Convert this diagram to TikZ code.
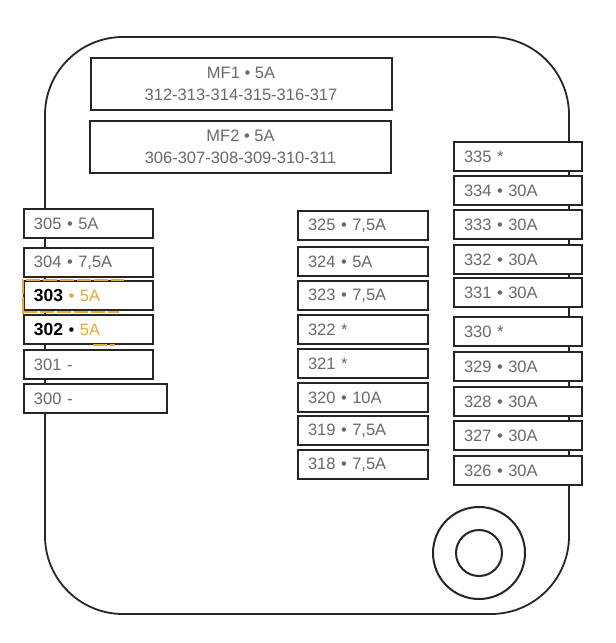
\documentclass[tikz,border=0pt]{standalone}
\usepackage{fontspec}
\setmainfont{Liberation Sans}
\usepackage{tikz}
\usetikzlibrary{positioning}

\definecolor{boxgray}{RGB}{105,105,105}
\definecolor{hiorange}{RGB}{232,168,58}

\tikzset{
  fusebox/.style={draw=black!85, line width=2pt, fill=white, anchor=north west,
    minimum height=29pt, inner xsep=10pt, inner ysep=0pt, text width=#1,
    align=left, font=\fontsize{16.5}{20}\selectfont, text=boxgray},
  mainbox/.style={draw=black!85, line width=2pt, fill=white,
    minimum width=301pt, minimum height=52pt, align=center,
    font=\fontsize{16.5}{22}\selectfont, text=boxgray},
  hilite/.style={draw=hiorange, line width=1.3pt, dash pattern=on 14pt off 3pt},
  ring/.style={draw=black!85, line width=2pt, circle, inner sep=0pt}
}

\begin{document}
\begin{tikzpicture}[x=1pt,y=1pt,yscale=-1,xscale=1]
\useasboundingbox (0,0) rectangle (616,643);

%Shape: Rounded Rectangle [outline]
\draw [draw=black!85, line width=1.8pt, rounded corners=78pt] (45,37) rectangle (569,614);

%Shape: Circle [hole]
\node [ring, minimum size=92pt] (holeout) at (479,553) {};
\node [ring, minimum size=46pt] (holein) at (holeout.center) {};

%Shape: Rectangle [main fuses]
\node [mainbox] (mf1) at (241,83.5) {MF1 • 5A\\312-313-314-315-316-317};
\node [mainbox] (mf2) at (240.5,147) {MF2 • 5A\\306-307-308-309-310-311};

%Shape: Rectangle [left column]
\node [fusebox=109pt] (f305) at (23,208) {305 • 5A};
\node [fusebox=109pt] (f304) at (23,247) {304 • 7,5A};
\node [fusebox=109pt] (f303) at (23,280) {{\fontsize{17.5}{20}\selectfont\bfseries\color{black}303} {\color{hiorange}• 5A}};
\node [fusebox=109pt] (f302) at (23,314) {{\fontsize{17.5}{20}\selectfont\bfseries\color{black}302} {\color{black}•} {\color{hiorange}5A}};
\node [fusebox=109pt] (f301) at (23,349) {301 -};
\node [fusebox=123pt] (f300) at (23,383) {300 -};

%Shape: Lines [highlight]
\draw [hilite] (f303.south west) -- (f303.north west) -- ([xshift=-30pt]f303.north east);
\draw [hilite] ([yshift=1pt]f303.south west) -- ([xshift=-35pt,yshift=1pt]f303.south east);
\draw [hilite] (f302.north west) -- ([yshift=-10pt]f302.north west);
\draw [hilite] ([xshift=70pt]f302.south west) -- ([xshift=92pt]f302.south west);

%Shape: Rectangle [middle column]
\node [fusebox=110pt] (f325) at (297,210) {325 • 7,5A};
\node [fusebox=110pt] (f324) at (297,246) {324 • 5A};
\node [fusebox=110pt] (f323) at (297,280) {323 • 7,5A};
\node [fusebox=110pt] (f322) at (297,314) {322 *};
\node [fusebox=110pt] (f321) at (297,348) {321 *};
\node [fusebox=110pt] (f320) at (297,382) {320 • 10A};
\node [fusebox=110pt] (f319) at (297,415) {319 • 7,5A};
\node [fusebox=110pt] (f318) at (297,449) {318 • 7,5A};

%Shape: Rectangle [right column]
\node [fusebox=108pt] (f335) at (453,141) {335 *};
\node [fusebox=108pt] (f334) at (453,175) {334 • 30A};
\node [fusebox=108pt] (f333) at (453,209) {333 • 30A};
\node [fusebox=108pt] (f332) at (453,244) {332 • 30A};
\node [fusebox=108pt] (f331) at (453,277) {331 • 30A};
\node [fusebox=108pt] (f330) at (453,316) {330 *};
\node [fusebox=108pt] (f329) at (453,351) {329 • 30A};
\node [fusebox=108pt] (f328) at (453,386) {328 • 30A};
\node [fusebox=108pt] (f327) at (453,420) {327 • 30A};
\node [fusebox=108pt] (f326) at (453,455) {326 • 30A};

\end{tikzpicture}
\end{document}
